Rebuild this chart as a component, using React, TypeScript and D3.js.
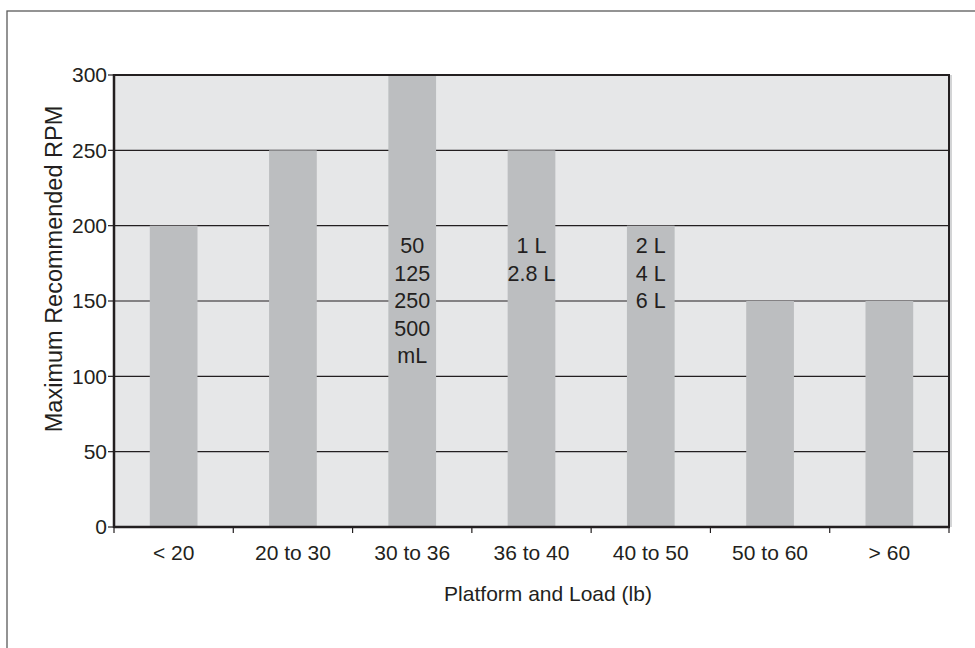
import React from "react";
import * as d3 from "d3";

const categories = ["< 20", "20 to 30", "30 to 36", "36 to 40", "40 to 50", "50 to 60", "> 60"];
const rpmValues = [200, 250, 300, 250, 200, 150, 150];
const yTicks = [0, 50, 100, 150, 200, 250, 300];
const barNotes: string[][] = [[], [], ["50", "125", "250", "500", "mL"], ["1 L", "2.8 L"], ["2 L", "4 L", "6 L"], [], []];
const xTitle = "Platform and Load (lb)";
const yTitle = "Maximum Recommended RPM";

const W = 975;
const H = 648;
const plot = { left: 114, right: 949, top: 75, bottom: 527 };
const TEXT = "#231f20";
const FONT = "'Liberation Sans', Arial, Helvetica, sans-serif";

export default function App() {
  const x = d3.scaleBand<string>().domain(categories).range([plot.left, plot.right]).padding(0);
  const y = d3.scaleLinear().domain([0, 300]).range([plot.bottom, plot.top]);
  const bw = x.bandwidth() * 0.4;
  const step = x.step();
  const boundaries = d3.range(categories.length + 1).map((i) => plot.left + i * step);

  return (
    <svg
      width={W}
      height={H}
      viewBox={`0 0 ${W} ${H}`}
      style={{ position: "absolute", left: 0, top: 0, background: "#fff" }}
      fontFamily={FONT}
    >
      <rect x={7} y={11} width={1200} height={1200} fill="none" stroke="#5a5a5a" strokeWidth={1.3} />
      {/* plot background */}
      <rect x={plot.left} y={plot.top} width={plot.right - plot.left} height={plot.bottom - plot.top} fill="#e6e7e8" />
      {/* grid lines */}
      {yTicks.filter((t) => t > 0 && t < 300).map((t) => (
        <line key={"g" + t} x1={plot.left} x2={plot.right} y1={y(t)} y2={y(t)} stroke={TEXT} strokeWidth={1.1} />
      ))}
      {/* bars */}
      {categories.map((c, i) => (
        <rect
          key={c}
          x={(x(c) as number) + (step - bw) / 2}
          y={y(rpmValues[i])}
          width={bw}
          height={plot.bottom - y(rpmValues[i])}
          fill="#bcbec0"
        />
      ))}
      {/* notes inside bars */}
      {categories.map((c, i) =>
        barNotes[i].map((t, j) => (
          <text
            key={c + j}
            x={(x(c) as number) + step / 2}
            y={253 + j * 27.5}
            textAnchor="middle"
            fontSize={21.5}
            fill={TEXT}
          >
            {t}
          </text>
        ))
      )}
      {/* frame */}
      <line x1={plot.right + 2} x2={plot.right + 2} y1={plot.top} y2={plot.bottom} stroke="#a7a9ac" strokeWidth={1} />
      <line x1={plot.left} x2={plot.right + 1} y1={plot.top} y2={plot.top} stroke={TEXT} strokeWidth={2} />
      <line x1={plot.right} x2={plot.right} y1={plot.top} y2={plot.bottom} stroke={TEXT} strokeWidth={2} />
      <line x1={plot.left} x2={plot.left} y1={plot.top - 1} y2={plot.bottom + 1} stroke={TEXT} strokeWidth={2.5} />
      <line x1={plot.left} x2={plot.right + 1} y1={plot.bottom} y2={plot.bottom} stroke={TEXT} strokeWidth={2.5} />
      {/* y ticks */}
      {yTicks.map((t) => (
        <g key={"y" + t}>
          <line x1={plot.left - 6} x2={plot.left} y1={y(t)} y2={y(t)} stroke={TEXT} strokeWidth={1.2} />
          <text x={plot.left - 7} y={y(t)} dy="0.35em" textAnchor="end" fontSize={21} fill={TEXT}>
            {t}
          </text>
        </g>
      ))}
      {/* x ticks */}
      {boundaries.map((b, i) => (
        <line key={"xt" + i} x1={b} x2={b} y1={plot.bottom} y2={plot.bottom + 6} stroke={TEXT} strokeWidth={1.2} />
      ))}
      {categories.map((c) => (
        <text key={"xl" + c} x={(x(c) as number) + step / 2} y={560} textAnchor="middle" fontSize={21} fill={TEXT}>
          {c}
        </text>
      ))}
      <text x={548} y={601} textAnchor="middle" fontSize={21} fill={TEXT}>
        {xTitle}
      </text>
      <text
        transform={`translate(62, ${(plot.top + plot.bottom) / 2 - 32}) rotate(-90)`}
        textAnchor="middle"
        fontSize={23.5}
        fill={TEXT}
      >
        {yTitle}
      </text>
    </svg>
  );
}
